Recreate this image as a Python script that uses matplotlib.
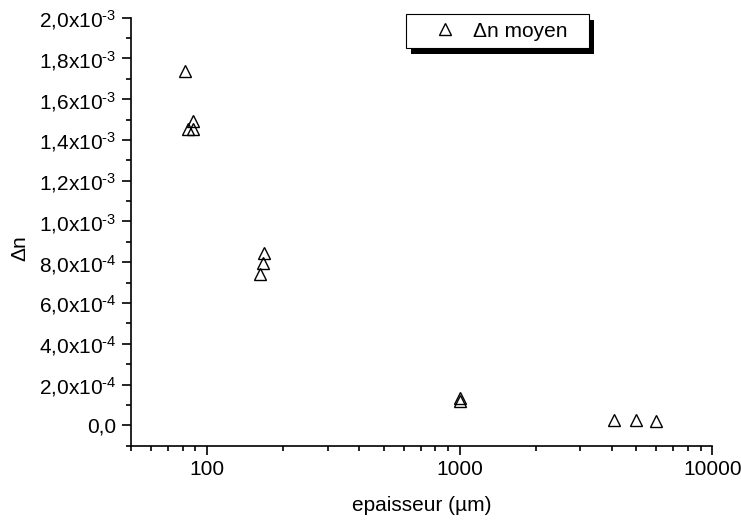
import matplotlib
matplotlib.use("Agg")
import matplotlib.pyplot as plt
from matplotlib.patches import Rectangle
from matplotlib.transforms import IdentityTransform
from matplotlib.ticker import FixedLocator, FixedFormatter, LogLocator, NullFormatter

plt.rcParams['font.family'] = ['Liberation Sans', 'DejaVu Sans']
plt.rcParams['mathtext.fontset'] = 'custom'
plt.rcParams['mathtext.rm'] = 'Liberation Sans'
plt.rcParams['mathtext.it'] = 'Liberation Sans'
plt.rcParams['mathtext.default'] = 'regular'

# data (thickness in µm, mean birefringence)
epaisseur = [81.6, 87.8, 83.9, 88.2, 167.7, 167.2, 162.7, 1000, 1000, 4100, 5000, 6000]
delta_n = [1.738e-3, 1.493e-3, 1.454e-3, 1.454e-3, 0.844e-3, 0.795e-3, 0.741e-3,
           0.1325e-3, 0.121e-3, 0.026e-3, 0.024e-3, 0.021e-3]

y_ticks = [0.0, 2e-4, 4e-4, 6e-4, 8e-4, 1.0e-3, 1.2e-3, 1.4e-3, 1.6e-3, 1.8e-3, 2.0e-3]
y_labels = ['0,0', r'2,0x10$^{\text{-4}}$', r'4,0x10$^{\text{-4}}$', r'6,0x10$^{\text{-4}}$',
            r'8,0x10$^{\text{-4}}$', r'1,0x10$^{\text{-3}}$', r'1,2x10$^{\text{-3}}$',
            r'1,4x10$^{\text{-3}}$', r'1,6x10$^{\text{-3}}$', r'1,8x10$^{\text{-3}}$',
            r'2,0x10$^{\text{-3}}$']
x_ticks = [100, 1000, 10000]
x_labels = ['100', '1000', '10000']

FS = 15

fig = plt.figure(figsize=(7.41, 5.20), dpi=100)
ax = fig.add_axes([0.1768, 0.1429, 0.7845, 0.8231])

ax.plot(epaisseur, delta_n, linestyle='none', marker='^', markersize=8,
        markerfacecolor='none', markeredgecolor='black', markeredgewidth=1.0,
        label='\u0394n moyen')

ax.set_xscale('log')
ax.set_xlim(50, 10000)
ax.set_ylim(-1e-4, 2.0e-3)

ax.xaxis.set_major_locator(FixedLocator(x_ticks))
ax.xaxis.set_major_formatter(FixedFormatter(x_labels))
ax.xaxis.set_minor_locator(LogLocator(base=10, subs=range(2, 10), numticks=20))
ax.xaxis.set_minor_formatter(NullFormatter())

ax.yaxis.set_major_locator(FixedLocator(y_ticks))
ax.yaxis.set_major_formatter(FixedFormatter(y_labels))
ax.yaxis.set_minor_locator(FixedLocator([i * 1e-4 for i in range(-1, 20, 2)]))

for s in ['top', 'right']:
    ax.spines[s].set_visible(False)
for s in ['left', 'bottom']:
    ax.spines[s].set_linewidth(1.2)

ax.tick_params(which='major', direction='out', length=6.5, width=1.2, labelsize=FS)
ax.tick_params(axis='y', which='major', pad=4)
ax.tick_params(axis='x', which='major', pad=4)
ax.tick_params(which='minor', direction='out', length=3.5, width=1.2)

ax.set_xlabel('epaisseur (\u00b5m)', fontsize=FS, labelpad=12)
ax.set_ylabel('\u0394n', fontsize=FS)
ax.yaxis.set_label_coords(-0.174, 0.461)

# legend box position in figure fraction
x0, y0 = 406 / 741, 1 - 48 / 520
w, h = 183 / 741, 34 / 520
leg = ax.legend(loc='upper left', bbox_to_anchor=(x0, y0 + h, w, 0.0),
                bbox_transform=fig.transFigure, mode='expand', borderaxespad=0,
                fancybox=False, edgecolor='black', framealpha=1, fontsize=FS,
                handlelength=3.0, handletextpad=-0.13, borderpad=0.37, numpoints=1)
leg.get_frame().set_linewidth(0.8)
leg.set_zorder(6)

fig.canvas.draw()
bb = leg.get_window_extent()
shadow = Rectangle((bb.x0 + 5, bb.y0 - 6), bb.width, bb.height, facecolor='black',
                   edgecolor='none', transform=IdentityTransform(), zorder=5.5, clip_on=False)
ax.add_patch(shadow)

fig.savefig('out.png', dpi=100)
